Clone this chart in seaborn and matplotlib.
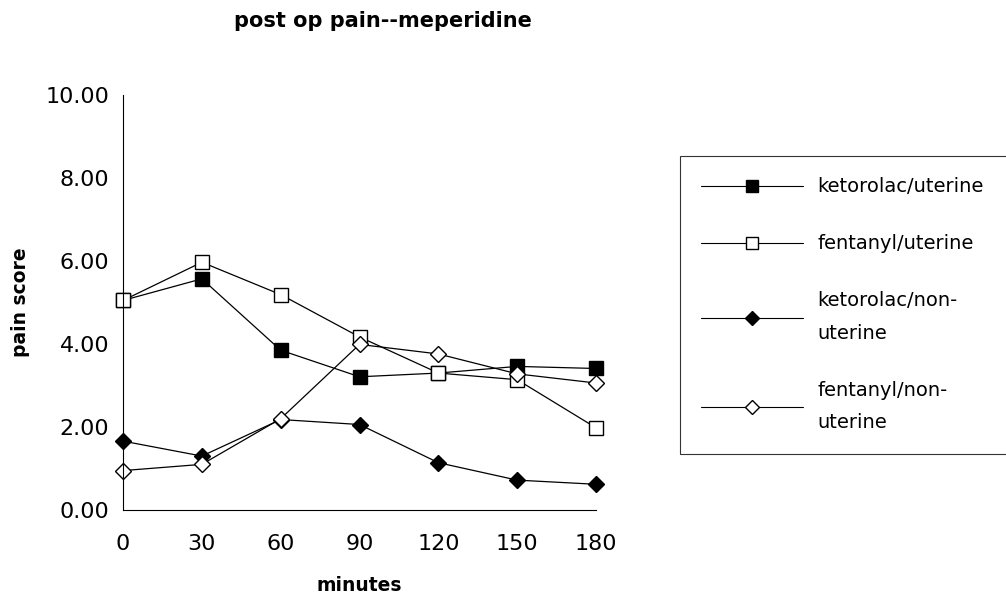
import pandas as pd
import numpy as np
import matplotlib
matplotlib.use("Agg")
import matplotlib.pyplot as plt
import seaborn as sns
from matplotlib.lines import Line2D

# --- data ---
minutes = [0, 30, 60, 90, 120, 150, 180]
ketorolac_uterine = [5.05, 5.57, 3.85, 3.21, 3.30, 3.46, 3.41]
fentanyl_uterine = [5.05, 5.97, 5.19, 4.17, 3.30, 3.14, 1.98]
ketorolac_nonuterine = [1.66, 1.30, 2.18, 2.06, 1.14, 0.72, 0.62]
fentanyl_nonuterine = [0.95, 1.10, 2.20, 3.99, 3.76, 3.28, 3.06]
series_names = ["ketorolac/uterine", "fentanyl/uterine",
                "ketorolac/non-\nuterine", "fentanyl/non-\nuterine"]
y_ticks = [0, 2, 4, 6, 8, 10]

df = pd.DataFrame({
    "minutes": minutes * 4,
    "score": ketorolac_uterine + fentanyl_uterine + ketorolac_nonuterine + fentanyl_nonuterine,
    "group": np.repeat(series_names, len(minutes)),
})

# marker style for each group: (marker, size, facecolor)
styles = {
    series_names[0]: ("s", 10.5, "black"),
    series_names[1]: ("s", 10.5, "white"),
    series_names[2]: ("D", 8.5, "black"),
    series_names[3]: ("D", 8.5, "white"),
}

sns.set_style("white")
plt.rcParams["font.family"] = ["DejaVu Sans"]
plt.rcParams["text.color"] = "black"
plt.rcParams["axes.labelcolor"] = "black"

fig = plt.figure(figsize=(10.06, 6.03), dpi=100)
ax = fig.add_axes([0.1223, 0.1542, 0.4702, 0.6883])

for name in series_names:
    marker, size, face = styles[name]
    sns.lineplot(data=df[df["group"] == name], x="minutes", y="score", ax=ax,
                 color="black", linewidth=0.9, marker=marker, markersize=size,
                 markerfacecolor=face, markeredgecolor="black", markeredgewidth=1.0,
                 clip_on=False, legend=False)

ax.set_xlim(0, 180)
ax.set_ylim(0, 10)
ax.set_xticks(minutes)
ax.set_yticks(y_ticks)
ax.set_yticklabels([f"{v:.2f}" for v in y_ticks])
ax.tick_params(axis="both", direction="inout", length=8, width=0.8,
               labelsize=16, colors="black")
ax.tick_params(axis="x", pad=13)
ax.tick_params(axis="y", pad=6)
for s in ["top", "right"]:
    ax.spines[s].set_visible(False)
for s in ["left", "bottom"]:
    ax.spines[s].set_color("black")
    ax.spines[s].set_linewidth(0.8)

ax.set_xlabel("minutes", fontsize=13.5, fontweight="bold", labelpad=16)
ax.set_ylabel("pain score", fontsize=13.5, fontweight="bold", labelpad=11)
fig.text(383 / 1006, 1 - 21 / 603, "post op pain--meperidine", ha="center", va="center",
         fontsize=15, fontweight="bold", color="black")

handles = []
for name in series_names:
    marker, size, face = styles[name]
    handles.append(Line2D([], [], color="black", linewidth=0.8, marker=marker,
                          markersize=size * 0.85, markerfacecolor=face,
                          markeredgecolor="black"))
leg = fig.legend(handles, series_names, loc="upper left",
                 bbox_to_anchor=(680 / 1006, 1 - 156 / 603, 0.36, 0.0),
                 mode="expand", fontsize=14, frameon=True, fancybox=False,
                 handlelength=5.2, handletextpad=0.75, labelspacing=1.95,
                 borderpad=1.1, borderaxespad=0)
for t in leg.get_texts():
    t.set_linespacing(1.9)
    t.set_color("black")
leg.get_frame().set_edgecolor("black")
leg.get_frame().set_linewidth(0.8)

fig.savefig("out.png", dpi=100)
